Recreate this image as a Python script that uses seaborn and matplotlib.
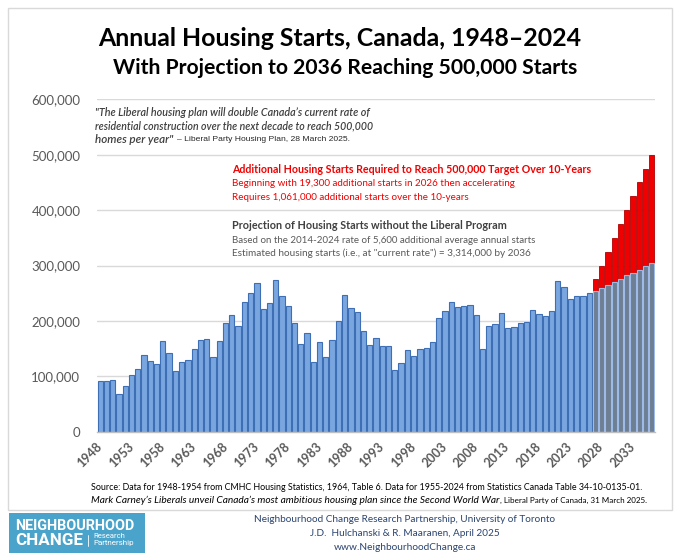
import matplotlib
matplotlib.use("Agg")
import matplotlib.pyplot as plt
import seaborn as sns
import pandas as pd
from matplotlib.patches import Rectangle
from matplotlib.ticker import FuncFormatter, FixedLocator

# ---------------- data ----------------
hist_years = list(range(1948, 2025))
hist_starts = [90900, 91000, 92500, 68600, 83200, 102400, 113500, 138300, 127300, 122300,
               164600, 141300, 108900, 125600, 130100, 148600, 165700, 166600, 134500, 164100,
               196900, 210400, 190500, 233700, 249900, 268500, 222100, 231500, 273200, 245700,
               227700, 197000, 158600, 178000, 125900, 162600, 134900, 165800, 199800, 246000,
               222600, 215400, 181600, 156200, 168300, 155400, 154100, 110900, 124700, 147000,
               137400, 150000, 151700, 162700, 205000, 218400, 233400, 225500, 227400, 228300,
               211100, 149100, 189900, 194000, 214800, 187900, 189300, 195500, 197900, 219800,
               212800, 208700, 217900, 271200, 261800, 240300, 245400]
early_proj_years = [2025, 2026]
early_proj_starts = [245000, 250000]
proj_years = list(range(2027, 2037))
proj_base = [254000, 260000, 265000, 271000, 276000, 282000, 287000, 292000, 299000, 304000]
target_total = [275000, 300000, 325000, 350000, 375000, 400000, 425000, 450000, 475000, 500000]

all_years = hist_years + early_proj_years + proj_years
order = [str(y) for y in all_years]
tick_years = [str(y) for y in range(1948, 2037, 5)]
y_ticks = [0, 100000, 200000, 300000, 400000, 500000, 600000]

# ---------------- figure ----------------
sns.set_theme(style="white")
plt.rcParams['font.family'] = ['Lato', 'DejaVu Sans']

W, H = 680, 558
fig = plt.figure(figsize=(W / 100, H / 100), dpi=100)
fig.patch.set_facecolor("white")

ax_l, ax_r, ax_b, ax_t = 97, 655, 431.7, 99.3
ax = fig.add_axes([ax_l / W, 1 - ax_b / H, (ax_r - ax_l) / W, (ax_b - ax_t) / H])
ax.set_facecolor("white")

df_hist = pd.DataFrame({"year": [str(y) for y in hist_years + early_proj_years],
                        "starts": hist_starts + early_proj_starts})
df_target = pd.DataFrame({"year": [str(y) for y in proj_years], "starts": target_total})
df_base = pd.DataFrame({"year": [str(y) for y in proj_years], "starts": proj_base})

bw = 0.84
sns.barplot(data=df_hist, x="year", y="starts", order=order, color="#7AA6E0",
            edgecolor="#3E6EB3", linewidth=0.8, width=bw, saturation=1,
            errorbar=None, ax=ax, zorder=3)
sns.barplot(data=df_target, x="year", y="starts", order=order, color="#F00000",
            edgecolor="#B00000", linewidth=0.6, width=bw, saturation=1,
            errorbar=None, ax=ax, zorder=3)
sns.barplot(data=df_base, x="year", y="starts", order=order, color="#6E7E93",
            edgecolor="#9DBBE6", linewidth=0.8, width=bw, saturation=1,
            errorbar=None, ax=ax, zorder=4)

ax.set_xlim(-0.5, len(order) - 0.5)
ax.set_ylim(0, 600000)
ax.set_xlabel("")
ax.set_ylabel("")

for s in ["top", "right", "left"]:
    ax.spines[s].set_visible(False)
ax.spines["bottom"].set_color("#BFBFBF")
ax.spines["bottom"].set_linewidth(1.0)
ax.spines["bottom"].set_zorder(5)

ax.set_yticks(y_ticks)
ax.yaxis.set_major_formatter(FuncFormatter(lambda v, p: f"{int(v):,}"))
ax.tick_params(axis="y", length=0, pad=12, labelsize=9.5, labelcolor="#595959")
ax.yaxis.grid(True, color="#D9D9D9", linewidth=1.0, zorder=0)
ax.set_axisbelow(True)

ax.set_xticks([order.index(y) for y in tick_years])
ax.set_xticklabels(tick_years, rotation=45, ha="right", va="center",
                   rotation_mode="anchor", fontweight="bold")
ax.tick_params(axis="x", length=0, pad=9, labelsize=9, labelcolor="#595959")
ax.xaxis.set_minor_locator(FixedLocator([i - 0.5 for i in range(len(order) + 1)]))
ax.tick_params(axis="x", which="minor", length=3, width=0.8, color="#BFBFBF", direction="out")

# ---------------- texts ----------------
fig.canvas.draw()
renderer = fig.canvas.get_renderer()


def put(x, y, s, width=None, ha="left", **kw):
    t = fig.text(x / W, 1 - y / H, s, ha=ha, va="center", **kw)
    if width:
        bb = t.get_window_extent(renderer)
        t.set_fontsize(t.get_fontsize() * width / bb.width)
    return t


def right_px(t):
    return t.get_window_extent(renderer).x1


# titles
put(340, 38, "Annual Housing Starts, Canada, 1948\u20132024", width=484, ha="center",
    fontsize=18, fontweight="bold", color="black")
put(345.5, 68, "With Projection to 2036 Reaching 500,000 Starts", width=465, ha="center",
    fontsize=15, fontweight="bold", color="black")

# quote
qc = "#404040"
put(95, 112.7, "\"The Liberal housing plan will double Canada\u2019s current rate of", width=275,
    fontsize=8.5, style="italic", fontweight="semibold", color=qc)
put(95, 126.3, "residential construction over the next decade to reach 500,000", width=278,
    fontsize=8.5, style="italic", fontweight="semibold", color=qc)
tq = put(95, 140, "homes per year\"", width=78, fontsize=8.5, style="italic",
         fontweight="semibold", color=qc)
put(177, 140, "\u2013 Liberal Party Housing Plan, 28 March 2025.", width=171,
    fontsize=7.5, family=["Liberation Sans", "DejaVu Sans"], color="#262626")

# red block
rc = "#F00000"
put(232, 169.3, "Additional Housing Starts Required to Reach 500,000 Target Over 10-Years",
    width=359, fontsize=9.5, fontweight="bold", color=rc)
put(232, 183.7, "Beginning with 19,300 additional starts in 2026 then accelerating",
    width=283, fontsize=8.5, color=rc)
put(232, 197.3, "Requires 1,061,000 additional starts over the 10-years",
    width=236, fontsize=8.5, color=rc)

# grey block
put(232, 225.7, "Projection of Housing Starts without the Liberal Program",
    width=275, fontsize=9.5, fontweight="bold", color="#404040")
put(232, 240, "Based on the 2014-2024 rate of 5,600 additional average annual starts",
    width=307, fontsize=8.5, color="#595959")
put(232, 253.7, "Estimated housing starts (i.e., at \"current rate\") = 3,314,000 by 2036",
    width=297, fontsize=8.5, color="#595959")

# source
put(91, 487.7, "Source: Data for 1948-1954 from CMHC Housing Statistics, 1964, Table 6. "
    "Data for 1955-2024 from Statistics Canada Table 34-10-0135-01.",
    width=550, fontsize=7.5, color="black")
t_it = put(91, 500.5, "Mark Carney\u2019s Liberals unveil Canada\u2019s most ambitious housing plan "
           "since the Second World War", width=404, fontsize=7.5, style="italic", color="black")
put(right_px(t_it), 500.5, ", Liberal Party of Canada, 31 March 2025.", width=146,
    fontsize=7.5, color="black")

# footer
fc = "#2B4470"
put(405, 520, "Neighbourhood Change Research Partnership, University of Toronto", width=300,
    ha="center", fontsize=8, color=fc)
put(405, 533.5, "J.D.  Hulchanski & R. Maaranen, April 2025", width=190, ha="center",
    fontsize=8, color=fc)
put(405, 547, "www.NeighbourhoodChange.ca", width=143, ha="center", fontsize=8, color=fc)

# frame
fig.add_artist(Rectangle((8 / W, 1 - 509.5 / H), (672 - 8) / W, (509.5 - 8) / H,
                         transform=fig.transFigure, facecolor="none",
                         edgecolor="#D9D9D9", linewidth=1.0))

# logo
fig.add_artist(Rectangle((9 / W, 1 - 553 / H), (144.5 - 9) / W, (553 - 513) / H,
                         transform=fig.transFigure, facecolor="#4AA3CA",
                         edgecolor="none"))
logo_font = ["Roboto", "DejaVu Sans"]
put(15, 526, "NEIGHBOURHOOD", width=120, fontsize=11, fontweight="bold",
    family=logo_font, color="white")
put(15, 540.5, "CHANGE", width=68, fontsize=11, fontweight="bold",
    family=logo_font, color="white")
fig.add_artist(plt.Line2D([88 / W, 88 / W], [1 - 546 / H, 1 - 535 / H],
                          transform=fig.transFigure, color="white", linewidth=0.6))
put(93, 536, "Research", width=32, fontsize=6, family=logo_font, color="white")
put(93, 543.5, "Partnership", width=42, fontsize=6, family=logo_font, color="white")

fig.savefig("out.png", dpi=100, facecolor="white")
